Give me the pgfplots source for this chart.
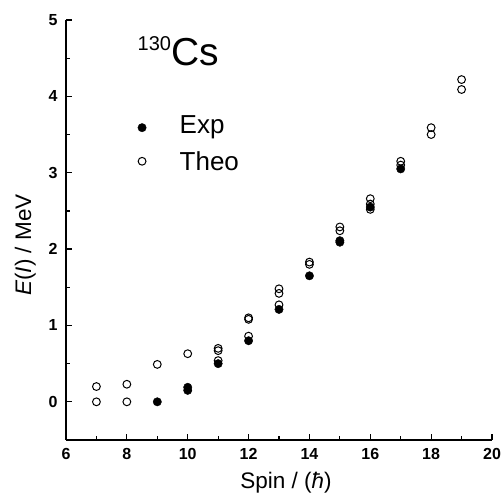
\documentclass[border=0pt]{standalone}
\usepackage{fontspec}
\setmainfont{Liberation Sans}
\usepackage{pgfplots}
\pgfplotsset{compat=1.18}

\begin{document}
\begin{tikzpicture}
% page frame: axis box is 426 x 420 pt, page 503 x 497 pt
\path[use as bounding box] (-66pt,-57pt) rectangle (437pt,440pt);
\begin{axis}[
  at={(0,0)}, anchor=south west,
  scale only axis, width=426pt, height=420pt,
  xmin=6, xmax=20, ymin=-0.5, ymax=5,
  axis lines*=left, axis line style={-, line width=1.5pt},
  xtick={6,8,...,20}, minor x tick num=1,
  ytick={0,1,...,5}, minor y tick num=1,
  tick align=inside, major tick length=6pt, minor tick length=4pt,
  tick style={line width=1.2pt, black},
  /pgf/number format/assume math mode=true,
  tick label style={font=\fontsize{16}{18}\selectfont\bfseries},
  xticklabel style={yshift=-5pt},
  yticklabel style={xshift=-5pt},
  xlabel={Spin / (\textit{ħ})},
  ylabel={\textit{E}(\textit{I}) / MeV},
  label style={font=\fontsize{22.5}{24}\selectfont},
  xlabel style={yshift=-5pt, xshift=7pt},
  ylabel style={yshift=6pt, xshift=-15pt},
  clip=false,
]
% experimental levels
\addplot[only marks, mark=*, mark size=4.2pt, black] coordinates {
  (9,0.0) (10,0.15) (10,0.19) (11,0.50) (12,0.80) (13,1.21) (14,1.65)
  (15,2.09) (15,2.11) (16,2.55) (17,3.05)
};
% theory levels
\addplot[only marks, mark=o, mark size=3.9pt, line width=1pt, black,
  mark options={fill=white}] coordinates {
  (7,0.0) (7,0.20) (8,0.0) (8,0.23) (9,0.49) (10,0.63)
  (11,0.54) (11,0.67) (11,0.70) (12,0.86) (12,1.08) (12,1.10)
  (13,1.27) (13,1.42) (13,1.48) (14,1.80) (14,1.83)
  (15,2.24) (15,2.29) (16,2.52) (16,2.59) (16,2.66)
  (17,3.10) (17,3.15) (18,3.50) (18,3.59) (19,4.09) (19,4.22)
};
% legend, drawn in axis units
\addplot[only marks, mark=*, mark size=4.2pt, black] coordinates {(8.5,3.59)};
\addplot[only marks, mark=o, mark size=3.9pt, line width=1pt, black] coordinates {(8.5,3.15)};
\node[anchor=west, font=\fontsize{26}{28}\selectfont] at (axis cs:9.62,3.59) {Exp};
\node[anchor=west, font=\fontsize{26}{28}\selectfont] at (axis cs:9.62,3.15) {Theo};
\node[anchor=base west, inner sep=0pt, font=\fontsize{39}{41}\selectfont]
  at (axis cs:8.35,4.4) {\raisebox{15pt}{\fontsize{20}{22}\selectfont 130}Cs};
\end{axis}
\end{tikzpicture}
\end{document}
